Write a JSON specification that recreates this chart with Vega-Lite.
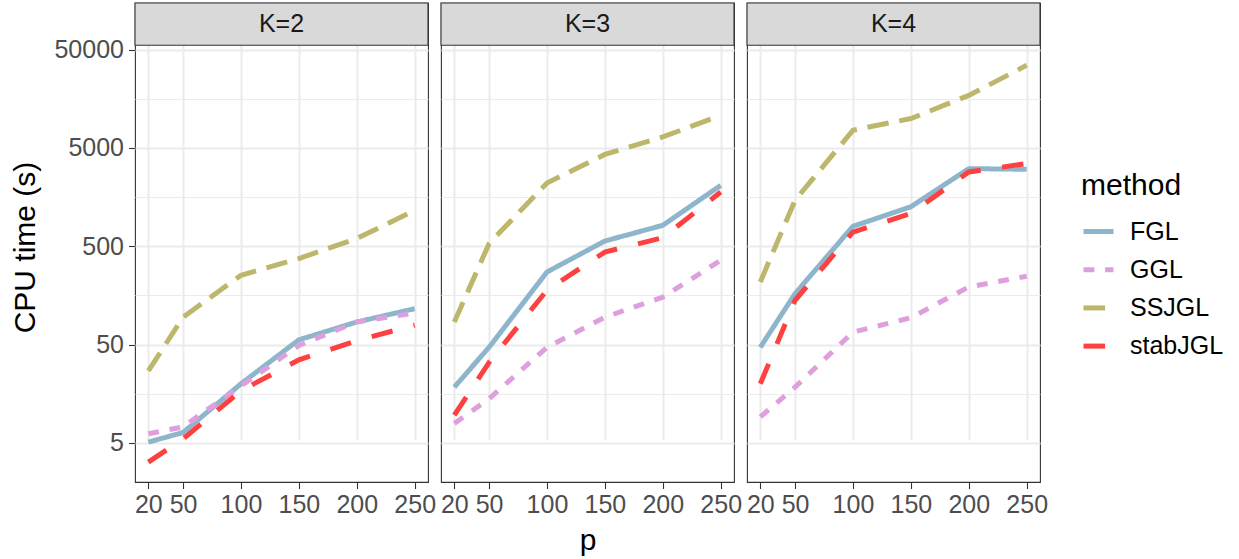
{
  "$schema": "https://vega.github.io/schema/vega-lite/v6.json",
  "padding": {"left": 10, "top": 1, "right": 5, "bottom": 0},
  "bounds": "flush",
  "config": {
    "font": "Liberation Sans",
    "view": {"stroke": "#333333", "strokeWidth": 1.1},
    "axis": {
      "domain": false,
      "gridColor": "#EBEBEB",
      "tickColor": "#333333",
      "tickWidth": 1.1,
      "labelColor": "#4D4D4D",
      "labelFontSize": 25,
      "labelFlush": false,
      "labelOverlap": false,
      "titleFontSize": 30,
      "titleFontWeight": "normal",
      "titleColor": "#000000"
    }
  },
  "data": {"values": [
    {"K": "K=2", "method": "FGL", "p": 20, "t": 5.1},
    {"K": "K=2", "method": "FGL", "p": 50, "t": 6.4},
    {"K": "K=2", "method": "FGL", "p": 100, "t": 20},
    {"K": "K=2", "method": "FGL", "p": 150, "t": 56},
    {"K": "K=2", "method": "FGL", "p": 200, "t": 85},
    {"K": "K=2", "method": "FGL", "p": 250, "t": 116},
    {"K": "K=2", "method": "GGL", "p": 20, "t": 6.2},
    {"K": "K=2", "method": "GGL", "p": 50, "t": 7.3},
    {"K": "K=2", "method": "GGL", "p": 100, "t": 19},
    {"K": "K=2", "method": "GGL", "p": 150, "t": 49},
    {"K": "K=2", "method": "GGL", "p": 200, "t": 85},
    {"K": "K=2", "method": "GGL", "p": 250, "t": 105},
    {"K": "K=2", "method": "SSJGL", "p": 20, "t": 27},
    {"K": "K=2", "method": "SSJGL", "p": 50, "t": 95},
    {"K": "K=2", "method": "SSJGL", "p": 100, "t": 254},
    {"K": "K=2", "method": "SSJGL", "p": 150, "t": 375},
    {"K": "K=2", "method": "SSJGL", "p": 200, "t": 600},
    {"K": "K=2", "method": "SSJGL", "p": 250, "t": 1160},
    {"K": "K=2", "method": "stabJGL", "p": 20, "t": 3.2},
    {"K": "K=2", "method": "stabJGL", "p": 50, "t": 5.5},
    {"K": "K=2", "method": "stabJGL", "p": 100, "t": 17},
    {"K": "K=2", "method": "stabJGL", "p": 150, "t": 35},
    {"K": "K=2", "method": "stabJGL", "p": 200, "t": 55},
    {"K": "K=2", "method": "stabJGL", "p": 250, "t": 79},
    {"K": "K=3", "method": "FGL", "p": 20, "t": 18.5},
    {"K": "K=3", "method": "FGL", "p": 50, "t": 47},
    {"K": "K=3", "method": "FGL", "p": 100, "t": 274},
    {"K": "K=3", "method": "FGL", "p": 150, "t": 566},
    {"K": "K=3", "method": "FGL", "p": 200, "t": 817},
    {"K": "K=3", "method": "FGL", "p": 250, "t": 2080},
    {"K": "K=3", "method": "GGL", "p": 20, "t": 7.9},
    {"K": "K=3", "method": "GGL", "p": 50, "t": 14.1},
    {"K": "K=3", "method": "GGL", "p": 100, "t": 47},
    {"K": "K=3", "method": "GGL", "p": 150, "t": 95},
    {"K": "K=3", "method": "GGL", "p": 200, "t": 152},
    {"K": "K=3", "method": "GGL", "p": 250, "t": 360},
    {"K": "K=3", "method": "SSJGL", "p": 20, "t": 85},
    {"K": "K=3", "method": "SSJGL", "p": 50, "t": 532},
    {"K": "K=3", "method": "SSJGL", "p": 100, "t": 2200},
    {"K": "K=3", "method": "SSJGL", "p": 150, "t": 4300},
    {"K": "K=3", "method": "SSJGL", "p": 200, "t": 6470},
    {"K": "K=3", "method": "SSJGL", "p": 250, "t": 10700},
    {"K": "K=3", "method": "stabJGL", "p": 20, "t": 9.6},
    {"K": "K=3", "method": "stabJGL", "p": 50, "t": 33},
    {"K": "K=3", "method": "stabJGL", "p": 100, "t": 179},
    {"K": "K=3", "method": "stabJGL", "p": 150, "t": 437},
    {"K": "K=3", "method": "stabJGL", "p": 200, "t": 612},
    {"K": "K=3", "method": "stabJGL", "p": 250, "t": 1780},
    {"K": "K=4", "method": "FGL", "p": 20, "t": 47},
    {"K": "K=4", "method": "FGL", "p": 50, "t": 165},
    {"K": "K=4", "method": "FGL", "p": 100, "t": 798},
    {"K": "K=4", "method": "FGL", "p": 150, "t": 1262},
    {"K": "K=4", "method": "FGL", "p": 200, "t": 3080},
    {"K": "K=4", "method": "FGL", "p": 250, "t": 3035},
    {"K": "K=4", "method": "GGL", "p": 20, "t": 9.2},
    {"K": "K=4", "method": "GGL", "p": 50, "t": 18.5},
    {"K": "K=4", "method": "GGL", "p": 100, "t": 67},
    {"K": "K=4", "method": "GGL", "p": 150, "t": 94},
    {"K": "K=4", "method": "GGL", "p": 200, "t": 193},
    {"K": "K=4", "method": "GGL", "p": 250, "t": 248},
    {"K": "K=4", "method": "SSJGL", "p": 20, "t": 217},
    {"K": "K=4", "method": "SSJGL", "p": 50, "t": 1470},
    {"K": "K=4", "method": "SSJGL", "p": 100, "t": 7570},
    {"K": "K=4", "method": "SSJGL", "p": 150, "t": 9950},
    {"K": "K=4", "method": "SSJGL", "p": 200, "t": 17100},
    {"K": "K=4", "method": "SSJGL", "p": 250, "t": 34600},
    {"K": "K=4", "method": "stabJGL", "p": 20, "t": 20},
    {"K": "K=4", "method": "stabJGL", "p": 50, "t": 141},
    {"K": "K=4", "method": "stabJGL", "p": 100, "t": 698},
    {"K": "K=4", "method": "stabJGL", "p": 150, "t": 1077},
    {"K": "K=4", "method": "stabJGL", "p": 200, "t": 2850},
    {"K": "K=4", "method": "stabJGL", "p": 250, "t": 3470}
  ]},
  "facet": {"column": {"field": "K", "type": "nominal", "header": {
    "labels": false, "title": "p", "titleOrient": "bottom",
    "titleFontSize": 30, "titleFontWeight": "normal", "titleColor": "#000000",
    "titleFont": "Liberation Sans", "titlePadding": -2
  }}},
  "spacing": 13,
  "spec": {
    "width": 293,
    "height": 479,
    "layer": [
      {
        "mark": {"type": "line", "strokeWidth": 5},
        "encoding": {
          "x": {
            "field": "p", "type": "quantitative",
            "scale": {"domain": [8.5, 261.5], "nice": false, "zero": false},
            "axis": {
              "title": null,
              "values": [20, 35, 50, 75, 100, 125, 150, 175, 200, 225, 250],
              "labelExpr": "indexof([20,50,100,150,200,250], datum.value) >= 0 ? datum.label : ''",
              "gridWidth": {"condition": {"test": "indexof([20,50,100,150,200,250], datum.value) >= 0", "value": 2}, "value": 1},
              "tickOpacity": {"condition": {"test": "indexof([20,50,100,150,200,250], datum.value) >= 0", "value": 1}, "value": 0},
              "tickSize": 6.5,
              "labelPadding": 4
            }
          },
          "y": {
            "field": "t", "type": "quantitative",
            "scale": {"type": "log", "domain": [2.006, 55300], "nice": false, "range": [479, 42.3]},
            "axis": {
              "title": "CPU time (s)",
              "titleY": 244,
              "values": [5, 15.811, 50, 158.11, 500, 1581.1, 5000, 15811, 50000],
              "format": "d",
              "labelExpr": "indexof([5,50,500,5000,50000], datum.value) >= 0 ? datum.label : ''",
              "gridWidth": {"condition": {"test": "indexof([5,50,500,5000,50000], datum.value) >= 0", "value": 2}, "value": 1},
              "tickOpacity": {"condition": {"test": "indexof([5,50,500,5000,50000], datum.value) >= 0", "value": 1}, "value": 0},
              "tickSize": 6.5,
              "labelPadding": 5,
              "titlePadding": 13
            }
          },
          "color": {
            "field": "method", "type": "nominal",
            "scale": {"domain": ["FGL", "GGL", "SSJGL", "stabJGL"], "range": ["#8DB6CD", "#DDA0DD", "#BDB76B", "#FF4040"]},
            "legend": {
              "orient": "none", "legendX": 946, "legendY": 168,
              "title": "method", "titleFontSize": 30, "titleFontWeight": "normal", "titleColor": "#000000",
              "labelFontSize": 25, "labelColor": "#000000",
              "symbolType": "stroke", "symbolSize": 900, "symbolStrokeWidth": 5,
              "labelOffset": 14, "rowPadding": 7.2, "titlePadding": 13, "padding": 0
            }
          },
          "strokeDash": {
            "field": "method", "type": "nominal",
            "scale": {"domain": ["FGL", "GGL", "SSJGL", "stabJGL"], "range": [[1, 0], [10.8, 10.8], [21.6, 10.8], [21.6, 21.6]]}
          }
        }
      },
      {
        "transform": [{"filter": "datum.p == 20 && datum.method == 'FGL'"}],
        "mark": {"type": "rect", "fill": "#D9D9D9", "stroke": "#333333", "strokeWidth": 1.1},
        "encoding": {
          "y": {"datum": 55300, "type": "quantitative"},
          "y2": {"datum": 148900}
        }
      },
      {
        "transform": [{"filter": "datum.p == 20 && datum.method == 'FGL'"}],
        "mark": {"type": "text", "fontSize": 25, "color": "#1A1A1A", "baseline": "middle", "align": "center"},
        "encoding": {
          "x": {"datum": 135, "type": "quantitative"},
          "y": {"datum": 90760, "type": "quantitative"},
          "text": {"field": "K"}
        }
      }
    ]
  }
}
